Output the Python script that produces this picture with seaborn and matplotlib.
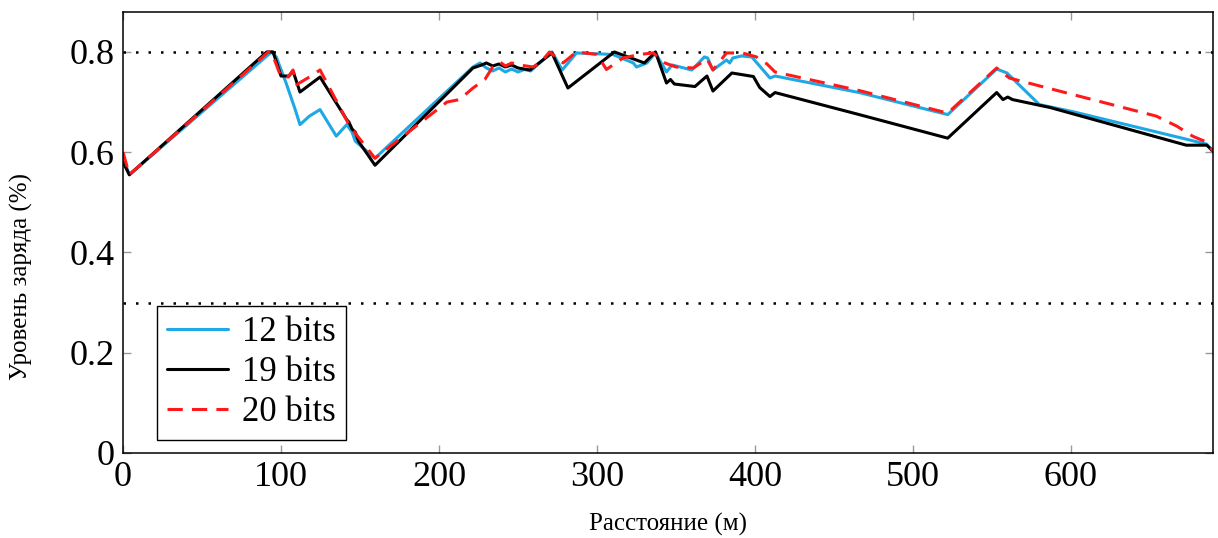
import matplotlib
matplotlib.use("Agg")
import matplotlib.pyplot as plt
import seaborn as sns
import pandas as pd

# 12 bits
x12 = [0, 4, 94, 97, 103, 109, 112, 118, 124.7, 135, 141.6, 145, 147, 159.5, 221.5, 226,
       230, 234, 238, 242, 246, 250, 254, 258, 271.5, 278, 287, 310, 323, 325, 331.6, 337,
       344, 347.5, 360, 368, 370, 373.4, 382, 384, 386, 391.6, 398, 409.5, 412.7, 466, 522,
       553, 559.5, 580, 601, 673, 686, 690]
y12 = [0.59, 0.555, 0.8, 0.79, 0.74, 0.685, 0.655, 0.672, 0.685, 0.632, 0.655, 0.64, 0.622, 0.588, 0.77, 0.778,
       0.768, 0.762, 0.768, 0.76, 0.766, 0.76, 0.765, 0.762, 0.8, 0.764, 0.798, 0.795, 0.778, 0.77, 0.778, 0.798,
       0.76, 0.774, 0.764, 0.79, 0.788, 0.764, 0.784, 0.778, 0.788, 0.792, 0.79, 0.748, 0.752, 0.719, 0.675,
       0.766, 0.758, 0.695, 0.681, 0.626, 0.616, 0.6]

# 19 bits
x19 = [0, 4, 91, 95, 100, 105, 107.6, 112, 124.7, 141.6, 143, 145, 147, 149, 159.5, 221.5,
       227, 230, 234, 238, 242, 246, 250, 257.6, 271.5, 281.6, 311, 330, 337, 344, 346.5,
       349, 362, 369.6, 373.4, 385.4, 399, 403, 409.5, 412.7, 466, 522, 553, 557, 560, 563,
       587, 673, 686, 690]
y19 = [0.58, 0.555, 0.8, 0.8, 0.752, 0.752, 0.762, 0.72, 0.75, 0.665, 0.66, 0.646, 0.64, 0.622, 0.574, 0.768,
       0.774, 0.778, 0.772, 0.776, 0.77, 0.774, 0.768, 0.764, 0.798, 0.728, 0.8, 0.778, 0.8, 0.738, 0.745,
       0.736, 0.731, 0.752, 0.722, 0.758, 0.751, 0.729, 0.711, 0.719, 0.675, 0.628, 0.719, 0.705, 0.71, 0.705,
       0.689, 0.614, 0.614, 0.602]

# 20 bits
x20 = [0, 4, 92, 94, 100, 104.6, 107.6, 110, 118, 124.7, 143.7, 159.5, 205, 213, 221.5, 229,
       234, 238.6, 242, 246, 251, 259.5, 264, 270, 274.7, 278.5, 287, 300, 306, 316.5, 327,
       335.5, 343, 350, 361, 369.6, 373.4, 382, 392, 401, 407.6, 412.7, 466, 522, 553, 561,
       581.6, 654, 667, 677, 686, 690]
y20 = [0.6, 0.555, 0.8, 0.8, 0.75, 0.75, 0.764, 0.735, 0.75, 0.764, 0.651, 0.588, 0.70, 0.705, 0.728, 0.745,
       0.77, 0.78, 0.772, 0.778, 0.774, 0.77, 0.778, 0.8, 0.788, 0.778, 0.8, 0.795, 0.765, 0.788, 0.795,
       0.798, 0.778, 0.77, 0.768, 0.786, 0.764, 0.798, 0.798, 0.79, 0.776, 0.76, 0.723, 0.678, 0.768, 0.748,
       0.731, 0.672, 0.652, 0.632, 0.62, 0.602]

limits = [0.8, 0.3]
x_ticks = [0, 100, 200, 300, 400, 500, 600]
y_ticks = [0, 0.2, 0.4, 0.6, 0.8]
y_ticklabels = ["0", "0.2", "0.4", "0.6", "0.8"]

sns.set_style("ticks")
plt.rcParams['font.family'] = ['Liberation Serif', 'DejaVu Serif']
plt.rcParams['text.color'] = 'black'
plt.rcParams['axes.labelcolor'] = 'black'

fig = plt.figure(figsize=(12.18, 5.38), dpi=100)
ax = fig.add_axes([0.101, 0.158, 0.895, 0.820])

for y in limits:
    ax.axhline(y, color='black', lw=1.8, linestyle=(0, (1, 4)), zorder=1)

sns.lineplot(x=x12, y=y12, ax=ax, color='#1EA8E4', lw=2.2, estimator=None, sort=False, label='12 bits')
sns.lineplot(x=x19, y=y19, ax=ax, color='black', lw=2.2, estimator=None, sort=False, label='19 bits')
sns.lineplot(x=x20, y=y20, ax=ax, color='#FF1A1A', lw=2.2, estimator=None, sort=False, label='20 bits',
             dashes=False, linestyle=(0, (5, 3)))

ax.set_xlim(0, 690)
ax.set_ylim(0, 0.88)
ax.set_xticks(x_ticks)
ax.set_yticks(y_ticks)
ax.set_yticklabels(y_ticklabels)
ax.tick_params(direction='in', length=6, width=1, color='#999999', labelsize=26, pad=6,
               top=True, right=True, labelcolor='black')
for s in ax.spines.values():
    s.set_color('black')
    s.set_linewidth(1.1)

ax.set_xlabel('Расстояние (м)', fontsize=18)
ax.set_ylabel('Уровень заряда (%)', fontsize=18)
ax.xaxis.set_label_coords(0.5, -0.135)
ax.yaxis.set_label_coords(-0.083, 0.40)

leg = ax.legend(loc='lower left', bbox_to_anchor=(0.031, 0.03), borderaxespad=0, fontsize=25,
                fancybox=False, framealpha=1, edgecolor='black', handlelength=1.75,
                handletextpad=0.4, labelspacing=0.2, borderpad=0.3)
leg.get_frame().set_linewidth(1.0)
for t in leg.get_texts():
    t.set_color('black')

plt.savefig('out.png', dpi=100)
